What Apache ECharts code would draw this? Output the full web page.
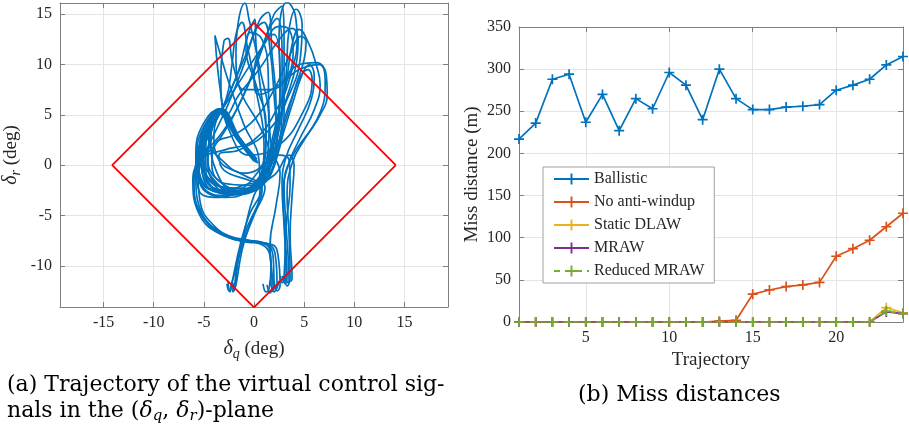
<!DOCTYPE html>
<html><head><meta charset="utf-8">
<script src="https://cdn.jsdelivr.net/npm/echarts@6/dist/echarts.min.js"></script>
<style>html,body{margin:0;padding:0;background:#fff}#c{width:909px;height:430px}</style>
</head><body><div id="c"></div>
<script>
// ---------- Right panel data ----------
const trajIdx = [1,2,3,4,5,6,7,8,9,10,11,12,13,14,15,16,17,18,19,20,21,22,23,24];
const ballistic   = [217,236,288,294,237,270,227,265,253,296,281,240,300,265,252,252,255,256,258,275,281,288,305,315];
const noAntiWindup= [0,0,0,0,0,0,0,0,0,0,0,0,1,2,33,38,42,44,47,78,87,97,113,129];
const staticDLAW  = [0,0,0,0,0,0,0,0,0,0,0,0,0,0,0,0,0,0,0,0,0,0,17,11];
const mraw        = [0,0,0,0,0,0,0,0,0,0,0,0,0,0,0,0,0,0,0,0,0,0,12,10];
const reducedMRAW = [0,0,0,0,0,0,0,0,0,0,0,0,0,0,0,0,0,0,0,0,0,0,13,10];
const xTicksRight = [5,10,15,20];
const yTicksRight = [0,50,100,150,200,250,300,350];

// ---------- Left panel data (estimated trajectories, deg) ----------
const diamondPts = [[14.14,0],[0,14.14],[-14.14,0],[0,-14.14],[14.14,0]];
const xTicksLeft = [-15,-10,-5,0,5,10,15];
const yTicksLeft = [-10,-5,0,5,10,15];
const traj1 = [[0.3,0.3],[-1.5,2.5],[-3.4,5.5],[-4.8,3.5],[-5.3,0.5],[-3.8,-1.9],[-1.2,-2.7],[1.0,-1.3],[2.0,2.5],[2.6,8],[2.5,13],[3.3,16.2],[4.1,15],[4.3,12.5],[3.8,9.5],[2.5,6],[0,2.5],[-3,1.5],[-5,0.8],[-5.8,-1],[-5.2,-4.8],[-2.5,-7.2],[1.3,-7.8],[2.1,-8.8],[2.3,-11.8],[2.0,-12.6],[1.6,-11.5]];
const traj2 = [[0.1,0.6],[-1.7,2.8],[-3.5,5.4],[-4.4,3],[-4.6,0],[-3.2,-2.2],[-0.8,-2.6],[1,-0.5],[1.5,4],[0.5,10],[-0.5,14.5],[-0.9,16.1],[-1.6,14],[-1.8,11],[-1,7.5],[1.5,7.5],[4.5,9.5],[6.5,10],[7.1,8],[6.4,4.8],[3.8,0.8],[3.0,-2],[3.2,-6],[3.5,-11.7],[3.3,-12],[3.0,-11]];
const traj3 = [[0.4,0.2],[-1.4,2.7],[-3.3,5.6],[-4.9,4],[-5.7,1],[-5.4,-1.8],[-3,-3.2],[-0.5,-2.5],[1.5,0.5],[2.2,6],[1.8,11],[1.4,15.2],[0.6,14.5],[-0.8,11],[-2.5,7],[-4,3],[-3.5,0.5],[-1,-1],[0.8,-2.2],[-0.5,-5],[-1.4,-8],[-2.2,-11.7],[-2.4,-12.6],[-2.6,-11.5]];
const traj4 = [[0.2,0.4],[-1.6,2.6],[-3.5,5.5],[-4.7,3.8],[-5.1,1.5],[-4.2,-1.2],[-1.8,-2.6],[0.8,-1.8],[2.2,1],[2.8,6],[2.8,11],[2.3,14.6],[1.5,13.5],[0.2,10],[-1.5,6],[-3.5,2.5],[-5.2,0.5],[-6.0,-1.5],[-5.5,-4.5],[-3,-6.8],[0,-7.6],[1.5,-8.2],[1.7,-10],[1.5,-12.3],[1.2,-12.6],[0.9,-11.8]];
const traj5 = [[0.0,0.7],[-1.9,3.0],[-3.6,5.3],[-4.3,2.5],[-3.8,-0.5],[-2,-2.5],[0.5,-2],[2.2,1.5],[3.5,6],[5.4,9.5],[5.8,8.5],[5.0,5.5],[2.5,2],[-0.5,1],[-2.5,3.5],[-3.3,7],[-3.9,12.9],[-3.5,11.5],[-2.6,8.5],[-1,4],[0.5,0.5],[0.6,-2.5],[-0.8,-6.5],[-1.5,-9],[-1.9,-12.2],[-2.1,-12.6],[-2.2,-11.6]];
const traj6 = [[0.2,0.5],[-1.6,2.8],[-3.4,5.6],[-5,4.2],[-5.8,1.2],[-5.6,-1],[-3.8,-2.6],[-1.2,-2.8],[0.8,-1.2],[2.2,3],[3.2,8],[3.8,12],[4.5,13.5],[5.5,12],[6.2,10],[6.6,8],[6,5.5],[4.5,2.5],[3.4,0],[2.9,-3],[3.1,-7],[3.3,-11],[3.1,-11.8],[2.9,-11.2]];
const traj7 = [[0.3,0.4],[-1.5,2.6],[-3.3,5.4],[-4.2,3.5],[-4.6,0.5],[-3.2,-1.8],[-0.6,-2.6],[1.4,-1.2],[2.3,2],[2.0,7],[1.6,11.5],[1.0,14.2],[0.2,13.5],[-1,10],[-2.6,6],[-4.5,2],[-5.6,-0.5],[-5.4,-3.5],[-4.2,-5.8],[-1.5,-7.5],[1.8,-7.9],[2.4,-9],[2.6,-12],[2.3,-12.5],[2.0,-11.5]];
const traj8 = [[0.1,0.5],[-1.7,2.9],[-3.5,5.5],[-4.6,4.4],[-5.4,2],[-5.2,-0.6],[-3.6,-2.4],[-1,-2.6],[1.2,-0.5],[2.5,3.5],[3.2,9],[3.5,13.5],[4.2,15.5],[4.8,14],[4.6,10.5],[3.5,7],[1.5,3.5],[-1.5,1.5],[-3.5,1],[-3,-0.5],[-0.5,-1.5],[1.1,-2.2],[0,-5],[-1.2,-8.1],[-2.2,-11.7],[-2.5,-12.5],[-2.7,-11.8]];
const traj9 = [[0.3,0.6],[-1.5,2.8],[-3.4,5.5],[-4.5,3.3],[-5,0.2],[-4,-2.4],[-1.5,-2.9],[0.8,-1],[2.3,3],[2.6,8.5],[2.0,13],[1.2,12.5],[0,9],[0.5,7],[2.5,8],[4.5,10],[6.2,10.2],[7.2,9],[7.3,7],[6.6,5],[5,2.5],[3.8,0.2],[3.3,-3],[3.5,-7],[3.6,-11.3],[3.4,-11.7],[3.2,-11.2]];
const traj10 = [[0,0.4],[-1.8,2.7],[-3.6,5.4],[-4.8,3],[-5.2,0],[-4,-2.6],[-1.6,-2.9],[0.4,-1.6],[1,2],[0.2,7.5],[-0.7,12],[-1.2,14.2],[-1.8,13],[-2.2,10],[-2.8,6.5],[-4.5,3],[-5.5,0],[-5,-2],[-3,-2.5],[0,-1.8],[0.8,-2.5],[-0.3,-5.5],[-1.2,-8.5],[-1.8,-11.9],[-2.0,-12.4],[-2.1,-11.7]];
const traj11 = [[0.2,0.3],[-1.6,2.5],[-3.5,5.4],[-4.9,3.7],[-5.4,1],[-4.4,-1.5],[-2,-2.9],[0.6,-2.2],[2.2,0.5],[3,5.5],[3,11],[2.8,15.8],[2,15],[0.8,11.5],[-1,7],[-3,3.5],[-5,1],[-6.1,-1.3],[-5.4,-5],[-2.8,-7.1],[0.8,-7.9],[1.6,-9],[1.8,-12.2],[1.6,-12.7],[1.3,-11.9]];
const traj12 = [[0.1,0.6],[-1.7,2.8],[-3.5,5.6],[-4.6,3.6],[-5.1,1],[-4.4,-1.9],[-2,-2.9],[0.5,-1.8],[2.3,1.5],[3.8,6],[4.8,9],[5.5,10],[6,9],[5.7,6.5],[4.4,3.5],[3.2,0.8],[2.8,-2],[3.0,-6],[3.2,-11],[3.0,-11.6],[2.8,-11]];
const traj13 = [[0.2,0.5],[-1.6,2.7],[-3.4,5.5],[-4.6,3.8],[-5.6,1],[-5.4,-1],[-3.5,-2.6],[-0.8,-2.6],[1,-1],[1.8,2.5],[3,7.5],[3.9,11],[3.5,13.5],[2.5,13.8],[1,12],[-1,9],[-3,5.8],[-4.8,3],[-5.8,0.5],[-5.5,-2.5],[-3.5,-3.2],[-1,-2.2],[1,0],[2.5,1],[3.5,0.5],[3.6,-2],[3.2,-6],[3.0,-11],[2.8,-11.7],[2.6,-11]];
const traj14 = [[0.3,0.3],[-1.5,2.6],[-3.3,5.5],[-4.9,3.2],[-5.5,0],[-4.6,-2.3],[-2.2,-2.8],[0.2,-1.6],[1.8,2],[3.2,6.5],[4.2,10],[4.4,12.5],[3.8,13.6],[2.6,12.6],[0.5,9.5],[-1.5,7],[-2.7,5],[-3.3,8],[-3.0,12.3],[-2.6,12.6],[-2.2,10.5],[-1.2,7],[0.5,4],[1.5,1],[1,-1.5],[0,-3],[-1,-6.8],[-1.7,-10],[-2.0,-12.3],[-2.2,-12.5]];
const traj15 = [[0.1,0.4],[-1.7,2.7],[-3.5,5.4],[-4.5,4],[-5.2,1.5],[-5.5,-1],[-3.5,-3],[-1,-2.8],[0.8,-0.8],[1.2,3],[0.6,8],[0.2,12],[0.1,14.5],[-0.6,13],[-1.5,9.5],[-3,6],[-4.5,3.5],[-5.7,0.5],[-6,-2],[-5,-5.2],[-2.2,-7.2],[1.1,-7.8],[1.9,-9],[2.0,-12.2],[1.8,-12.6]];
const traj16 = [[0.2,0.6],[-1.6,2.8],[-3.4,5.4],[-4.3,4.2],[-4.8,2],[-4.8,-0.5],[-3.5,-2.1],[-0.8,-2.3],[1.5,0],[3,4],[4.2,8],[5,10.5],[5.2,12.3],[4.7,12.8],[3.6,11],[2,7.5],[0,4.5],[-2,3],[-3.8,2.2],[-4.2,0],[-3,-1.8],[-0.5,-2],[2,-1],[3.5,1],[4,0],[3.8,-3],[3.6,-7],[3.8,-11.3],[3.6,-11.6]];
const traj17 = [[0.2,0.4],[-1.6,2.6],[-3.4,5.5],[-4.2,4.5],[-4.5,2.5],[-3.2,0.5],[-1,-0.8],[1,0.5],[1.2,4],[0.2,8],[-0.8,11.5],[-0.3,13.2],[0.8,12.5],[1.4,9.5],[1.5,5],[1.8,1.5],[2.6,-0.8],[2.2,-4],[1.6,-8],[1.9,-11.6],[2.2,-12.3],[2.5,-11.5]];
const trajectories = [traj1,traj2,traj3,traj4,traj5,traj6,traj7,traj8,traj9,traj10,traj11,traj12,traj13,traj14,traj15,traj16,traj17];

// ---------- Styling ----------
const FONT = 'Liberation Serif';
const CAP = '"DejaVu Serif"';
const AX = '#7f7f7f', GRIDC = '#e4e4e4', TXT = '#262626';
const C = ['#0072BD','#D95319','#EDB120','#7E2F8E','#77AC30'];
const PLUS = 'path://M-0.17,-1 L0.17,-1 L0.17,-0.17 L1,-0.17 L1,0.17 L0.17,0.17 L0.17,1 L-0.17,1 L-0.17,0.17 L-1,0.17 L-1,-0.17 L-0.17,-0.17 Z';

function mainAxis(gi, pos, min, max, ticks, extra) {
  return Object.assign({
    type:'value', gridIndex:gi, position:pos, min:min, max:max,
    axisLine:{show:true, onZero:false, lineStyle:{color:AX, width:1}},
    axisTick:{show:true, inside:true, length:5, customValues:ticks, lineStyle:{color:AX}},
    axisLabel:{show:true, customValues:ticks, color:TXT, fontFamily:FONT, fontSize:16, margin:8},
    splitLine:{show:true, lineStyle:{color:GRIDC, width:1}}
  }, extra || {});
}
function boxAxis(gi, pos, min, max, ticks) {
  return {
    type:'value', gridIndex:gi, position:pos, min:min, max:max,
    axisLine:{show:true, onZero:false, lineStyle:{color:AX, width:1}},
    axisTick:{show:true, inside:true, length:5, customValues:ticks, lineStyle:{color:AX}},
    axisLabel:{show:false}, splitLine:{show:false}
  };
}
const nameStyle = {color:TXT, fontFamily:FONT, fontSize:19,
  rich:{d:{fontFamily:FONT, fontStyle:'italic', fontSize:20, color:TXT},
        s:{fontFamily:FONT, fontStyle:'italic', fontSize:14, color:TXT, padding:[10,0,0,0]},
        t:{fontFamily:FONT, fontSize:19, color:TXT}}};
const plainName = {color:TXT, fontFamily:FONT, fontSize:19};

const series = [];
trajectories.forEach(function(tr){
  series.push({type:'line', xAxisIndex:0, yAxisIndex:0, data:tr, smooth:0.45, showSymbol:false,
    lineStyle:{color:C[0], width:1.7}, silent:true, z:2});
});
series.push({type:'line', xAxisIndex:0, yAxisIndex:0, data:diamondPts, showSymbol:false,
  lineStyle:{color:'#ff0000', width:1.8}, silent:true, z:3});

const rightSeries = [
  ['Ballistic', ballistic, C[0], 'solid'],
  ['No anti-windup', noAntiWindup, C[1], 'solid'],
  ['Static DLAW', staticDLAW, C[2], 'solid'],
  ['MRAW', mraw, C[3], 'solid'],
  ['Reduced MRAW', reducedMRAW, C[4], [6,5]]
];
rightSeries.forEach(function(s, i){
  series.push({type:'line', name:s[0], xAxisIndex:2, yAxisIndex:2,
    data: trajIdx.map(function(t, k){ return [t, s[1][k]]; }),
    symbol:PLUS, symbolSize:10, showAllSymbol:true,
    lineStyle:{color:s[2], width:1.7, type:s[3]}, itemStyle:{color:s[2]}, z:3+i});
});

const option = {
  animation:false,
  backgroundColor:'#fff',
  grid:[
    {left:60, top:3, width:388, height:304},
    {left:60, top:3, width:388, height:304},
    {left:519, top:27, width:384, height:295},
    {left:519, top:27, width:384, height:295}
  ],
  xAxis:[
    mainAxis(0,'bottom',-19.35,19.35,xTicksLeft,{name:'{d|δ}{s|q}{t| (deg)}', nameLocation:'middle', nameGap:30, nameTextStyle:nameStyle}),
    boxAxis(1,'top',-19.35,19.35,xTicksLeft),
    mainAxis(2,'bottom',1,24,xTicksRight,{name:'Trajectory', nameLocation:'middle', nameGap:27, nameTextStyle:plainName}),
    boxAxis(3,'top',1,24,xTicksRight)
  ],
  yAxis:[
    mainAxis(0,'left',-14.1,16.12,yTicksLeft,{name:'{d|δ}{s|r}{t| (deg)}', nameLocation:'middle', nameGap:37, nameTextStyle:nameStyle}),
    boxAxis(1,'right',-14.1,16.12,yTicksLeft),
    mainAxis(2,'left',0,350,yTicksRight,{name:'Miss distance (m)', nameLocation:'middle', nameGap:37, nameTextStyle:plainName}),
    boxAxis(3,'right',0,350,yTicksRight)
  ],
  legend:{
    orient:'vertical', left:543, top:167, padding:[4,10,4,10],
    itemWidth:35, itemHeight:14, itemGap:7,
    backgroundColor:'#fff', borderColor:'#a0a0a0', borderWidth:1,
    textStyle:{fontFamily:FONT, fontSize:16, color:TXT, lineHeight:14},
    data:['Ballistic','No anti-windup','Static DLAW','MRAW','Reduced MRAW']
  },
  graphic:[
    {type:'text', left:7, top:374, style:{text:'(a) Trajectory of the virtual control sig-', font:'22px ' + CAP, fill:'#000'}},
    {type:'text', left:7, top:400, style:{text:'nals in the ({d|δ}{s|q}, {d|δ}{s|r})-plane', font:'22px ' + CAP, fill:'#000',
      rich:{d:{font:'italic 22px ' + CAP, fill:'#000'}, s:{font:'italic 15px ' + CAP, fill:'#000', padding:[10,0,0,0]}}}},
    {type:'text', left:578, top:384, style:{text:'(b) Miss distances', font:'22px ' + CAP, fill:'#000'}}
  ],
  series:series
};
const chart = echarts.init(document.getElementById('c'), null, {renderer:'canvas'});
chart.setOption(option);
</script></body></html>
